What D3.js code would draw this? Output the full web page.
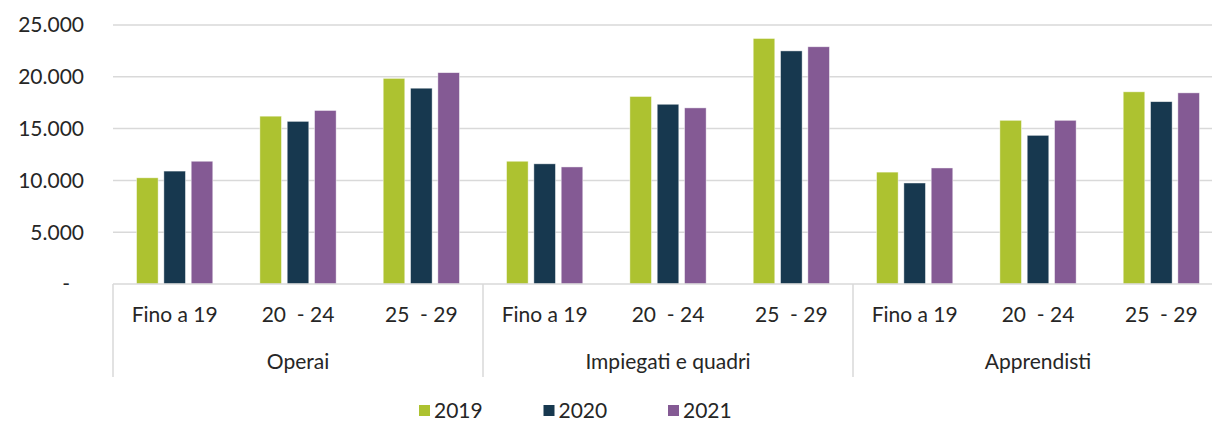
<!DOCTYPE html>
<html>
<head>
<meta charset="utf-8">
<script src="https://cdn.jsdelivr.net/npm/d3@7"></script>
<style>
  body { margin: 0; background: #fff; }
  text { font-family: "Lato", "DejaVu Sans", sans-serif; fill: #262626; }
</style>
</head>
<body>
<div id="chart"></div>
<script>
// data
var groups = ['Operai', 'Impiegati e quadri', 'Apprendisti'];
var ages = ['Fino a 19', '20  - 24', '25  - 29'];
var years = ['2019', '2020', '2021'];
var v2019 = [10250, 16200, 19850, 11850, 18100, 23700, 10800, 15800, 18550];
var v2020 = [10900, 15700, 18900, 11600, 17350, 22500, 9750, 14350, 17600];
var v2021 = [11850, 16750, 20400, 11300, 17000, 22900, 11200, 15800, 18450];
var yTicks = [0, 5000, 10000, 15000, 20000, 25000];
var colors = ['#adc230', '#17384f', '#845a94'];

var W = 1212, H = 422;
var margin = {top: 25, right: -11, bottom: 138, left: 113};
var w = W - margin.left - margin.right,
    h = H - margin.top - margin.bottom;

var svg = d3.select('#chart').append('svg')
    .attr('width', W)
    .attr('height', H);

var g = svg.append('g')
    .attr('transform', 'translate(' + margin.left + ',' + margin.top + ')');

// one band per (group, age) pair
var cats = [];
groups.forEach(function (gr) {
    ages.forEach(function (a) { cats.push({group: gr, age: a, key: gr + '|' + a}); });
});
var series = [v2019, v2020, v2021];

var x0 = d3.scaleBand()
    .domain(cats.map(function (d) { return d.key; }))
    .range([0, w]);

var xg = d3.scaleBand()
    .domain(groups)
    .range([0, w]);

var x1 = d3.scaleBand()
    .domain(years)
    .range([0, 82])
    .paddingInner(0.21)
    .paddingOuter(0.105);

var y = d3.scaleLinear()
    .domain([0, 25000])
    .range([h, 0]);

var fmt = function (d) {
    return d === 0 ? '-' : d3.format(',')(d).replace(/,/g, '.');
};

// gridlines
g.selectAll('.grid')
    .data(yTicks.slice(1))
    .enter()
    .append('line')
    .attr('x1', 0)
    .attr('x2', w)
    .attr('y1', function (d) { return y(d); })
    .attr('y2', function (d) { return y(d); })
    .attr('stroke', '#d9d9d9')
    .attr('stroke-width', 1.5);

// y labels
g.selectAll('.ylab')
    .data(yTicks)
    .enter()
    .append('text')
    .attr('x', function (d) { return d === 0 ? -43 : -29; })
    .attr('y', function (d) { return y(d); })
    .attr('dy', '0.35em')
    .attr('text-anchor', 'end')
    .style('font-size', '21px')
    .text(fmt);

// bars
var cat = g.selectAll('.cat')
    .data(cats)
    .enter()
    .append('g')
    .attr('transform', function (d) {
        return 'translate(' + (x0(d.key) + x0.bandwidth() / 2 - 41) + ',0)';
    });

cat.selectAll('rect')
    .data(function (d, i) {
        return years.map(function (yr, j) { return {year: yr, value: series[j][i], j: j}; });
    })
    .enter()
    .append('rect')
    .attr('x', function (d) { return x1(d.year); })
    .attr('y', function (d) { return y(d.value); })
    .attr('width', x1.bandwidth())
    .attr('height', function (d) { return h - y(d.value); })
    .attr('fill', function (d) { return colors[d.j]; })
    .attr('stroke', '#ffffff')
    .attr('stroke-opacity', 0.6)
    .attr('stroke-width', 0.75);

// baseline
g.append('line')
    .attr('x1', 0).attr('x2', w)
    .attr('y1', h).attr('y2', h)
    .attr('stroke', '#d9d9d9')
    .attr('stroke-width', 1.5);

// group separators
g.selectAll('.sep')
    .data(groups.concat(['end']))
    .enter()
    .append('line')
    .attr('x1', function (d, i) { return i * xg.step(); })
    .attr('x2', function (d, i) { return i * xg.step(); })
    .attr('y1', h)
    .attr('y2', h + 93)
    .attr('stroke', '#d9d9d9')
    .attr('stroke-width', 1.5);

// age labels
g.selectAll('.alab')
    .data(cats)
    .enter()
    .append('text')
    .attr('x', function (d) { return x0(d.key) + x0.bandwidth() / 2; })
    .attr('y', h + 31)
    .attr('dy', '0.35em')
    .attr('text-anchor', 'middle')
    .style('font-size', '21px')
    .style('white-space', 'pre')
    .text(function (d) { return d.age; });

// group labels
g.selectAll('.glab')
    .data(groups)
    .enter()
    .append('text')
    .attr('x', function (d) { return xg(d) + xg.bandwidth() / 2; })
    .attr('y', h + 78)
    .attr('dy', '0.35em')
    .attr('text-anchor', 'middle')
    .style('font-size', '21px')
    .text(function (d) { return d; });

// legend
var legend = svg.append('g')
    .attr('transform', 'translate(419,411)');

var item = legend.selectAll('.item')
    .data(years)
    .enter()
    .append('g')
    .attr('transform', function (d, i) { return 'translate(' + (i * 124.5) + ',0)'; });

item.append('rect')
    .attr('x', 0)
    .attr('y', -6)
    .attr('width', 11)
    .attr('height', 11)
    .attr('fill', function (d, i) { return colors[i]; });

item.append('text')
    .attr('x', 15)
    .attr('y', 0)
    .attr('dy', '0.35em')
    .style('font-size', '21px')
    .text(function (d) { return d; });
</script>
</body>
</html>
